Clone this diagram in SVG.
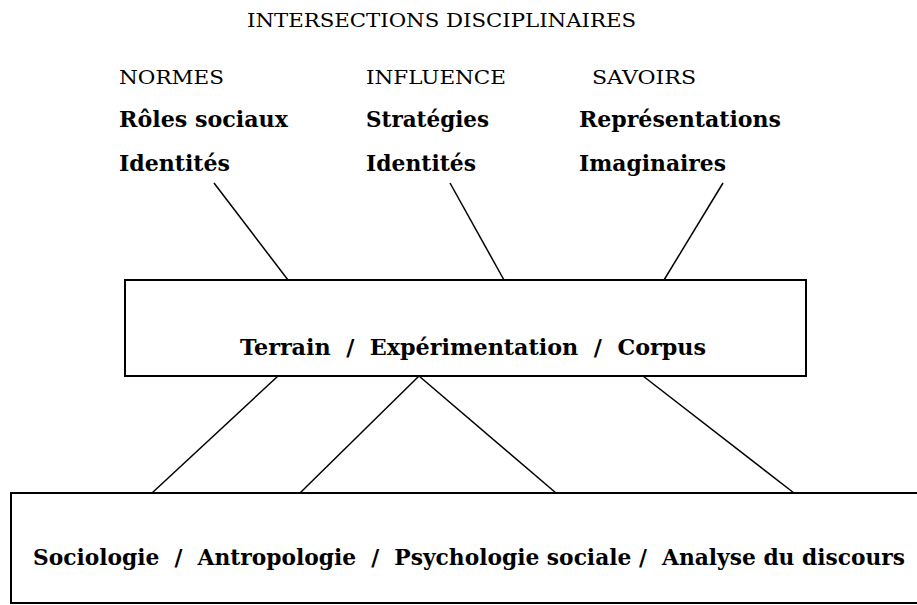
<svg xmlns="http://www.w3.org/2000/svg" width="917" height="605" viewBox="0 0 917 605">
  <style>
    .bg { fill: #ffffff; }
    .box { fill: #ffffff; stroke: #000000; stroke-width: 2; }
    .link { stroke: #000000; stroke-width: 1.5; fill: none; }
    .head { font-family: "DejaVu Serif", "Liberation Serif", serif; font-size: 19px; fill: #000000; }
    .term { font-family: "DejaVu Serif", "Liberation Serif", serif; font-size: 22px; font-weight: bold; fill: #000000; }
  </style>
  <rect class="bg" x="0" y="0" width="917" height="605"/>

  <!-- Title -->
  <g id="title">
    <text class="head" x="247" y="27" textLength="389" lengthAdjust="spacingAndGlyphs">INTERSECTIONS DISCIPLINAIRES</text>
  </g>

  <!-- Three thematic columns -->
  <g id="col-normes">
    <text class="head" x="119" y="84" textLength="105" lengthAdjust="spacingAndGlyphs">NORMES</text>
    <text class="term" x="119" y="127" textLength="169" lengthAdjust="spacingAndGlyphs">Rôles sociaux</text>
    <text class="term" x="119" y="171" textLength="111" lengthAdjust="spacingAndGlyphs">Identités</text>
  </g>
  <g id="col-influence">
    <text class="head" x="366" y="84" textLength="140" lengthAdjust="spacingAndGlyphs">INFLUENCE</text>
    <text class="term" x="366" y="127" textLength="123" lengthAdjust="spacingAndGlyphs">Stratégies</text>
    <text class="term" x="366" y="171" textLength="110" lengthAdjust="spacingAndGlyphs">Identités</text>
  </g>
  <g id="col-savoirs">
    <text class="head" x="592" y="84" textLength="104" lengthAdjust="spacingAndGlyphs">SAVOIRS</text>
    <text class="term" x="579" y="127" textLength="202" lengthAdjust="spacingAndGlyphs">Représentations</text>
    <text class="term" x="579" y="171" textLength="147" lengthAdjust="spacingAndGlyphs">Imaginaires</text>
  </g>

  <!-- Connectors -->
  <g id="connectors">
    <line class="link" x1="214" y1="183" x2="288" y2="280"/>
    <line class="link" x1="450" y1="183" x2="504" y2="280"/>
    <line class="link" x1="723" y1="183" x2="664" y2="280"/>
    <line class="link" x1="278" y1="376" x2="152" y2="493"/>
    <line class="link" x1="419" y1="376" x2="300" y2="493"/>
    <line class="link" x1="419" y1="376" x2="556" y2="493"/>
    <line class="link" x1="643" y1="376" x2="794" y2="493"/>
  </g>

  <!-- Middle box -->
  <g id="node-terrain">
    <rect class="box" x="125" y="280" width="681" height="96"/>
    <text class="term" x="240" y="355" textLength="466" lengthAdjust="spacingAndGlyphs" xml:space="preserve">Terrain  /  Expérimentation  /  Corpus</text>
  </g>

  <!-- Bottom box (runs past the right edge) -->
  <g id="node-disciplines">
    <rect class="box" x="11" y="493" width="920" height="110"/>
    <text class="term" x="33" y="565" textLength="872" lengthAdjust="spacingAndGlyphs" xml:space="preserve">Sociologie  /  Antropologie  /  Psychologie sociale /  Analyse du discours</text>
  </g>
</svg>
